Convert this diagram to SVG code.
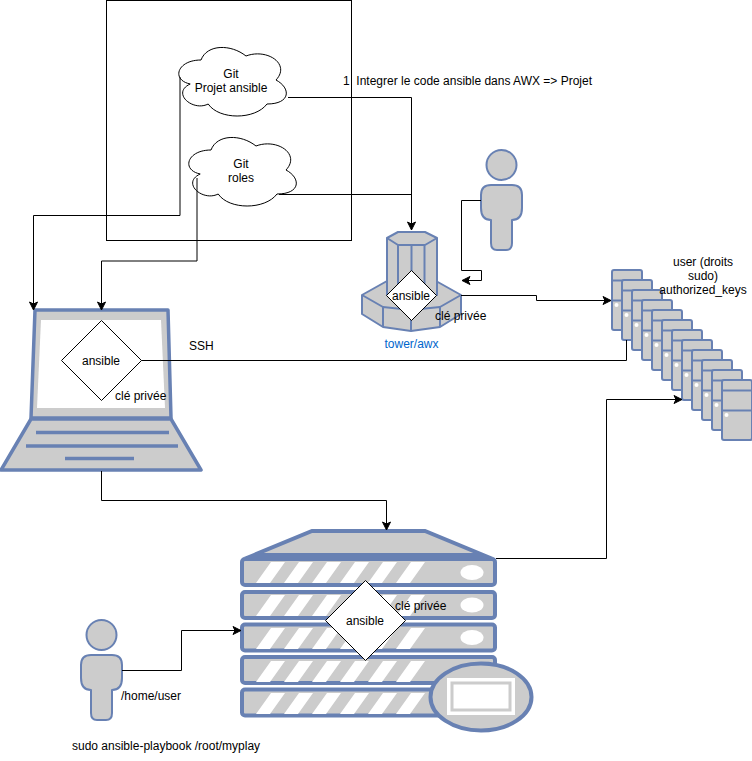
<svg xmlns="http://www.w3.org/2000/svg" width="752" height="761" viewBox="0 0 752 761">
<style>
text{font-family:"Liberation Sans",Arial,sans-serif;font-size:12px;fill:#000}
.c{text-anchor:middle}
.e{fill:none;stroke:#000;stroke-width:1}
.s{fill:#ccc;stroke:#6881b3;stroke-width:2;stroke-linejoin:round}
.t{fill:#ccc;stroke:#6881b3;stroke-width:4;stroke-linejoin:round}
.l{fill:#ccc;stroke:#6881b3;stroke-width:3.500;stroke-linejoin:round}
.d{fill:#fff;stroke:#000;stroke-width:1}
.w{fill:#fff;stroke:none}
</style>
<defs>
<marker id="a" markerUnits="userSpaceOnUse" markerWidth="10" markerHeight="10" refX="8" refY="4" orient="auto" overflow="visible"><path d="M0 0L8 4L0 8L2 4Z" fill="#000" stroke="#000" stroke-width="1"/></marker>
<path id="cl" d="M30 20C6 20 0 40 19.200 44C0 52.800 21.600 72 37.200 64C48 80 84 80 96 64C120 64 120 48 105 40C120 24 96 8 75 16C60 4 36 4 30 20Z"/>
<g id="srv"><rect class="s" x="0" y="0" width="30" height="60" rx="2"/><path class="s" d="M0 10.500H30M0 30.500H30" fill="none"/><circle class="w" cx="4.500" cy="35" r="2"/></g>
<g id="stripes"><path class="w" d="M256 21L271 0H285L270 21ZM284 21L299 0H313L298 21ZM312 21L327 0H341L326 21ZM340 21L355 0H369L354 21ZM368 21L383 0H397L382 21ZM396 21L411 0H425L410 21Z"/></g>
<g id="person"><circle class="s" cx="20.500" cy="15" r="15"/><path class="s" d="M10 35H31Q41 35 41 45V58Q41 70 31 70V93Q31 100 25 100H16Q10 100 10 93V70Q0 70 0 58V45Q0 35 10 35Z"/></g>
</defs>

<rect id="box" x="106.500" y="0.500" width="245" height="240" fill="none" stroke="#000"/>

<g id="cloud-projet"><use href="#cl" x="171" y="40" fill="#fff" stroke="#000"/><text class="c" x="231" y="78">Git</text><text class="c" x="231" y="92">Projet ansible</text></g>
<g id="cloud-roles"><use href="#cl" x="181" y="130" fill="#fff" stroke="#000"/><text class="c" x="241" y="168">Git</text><text class="c" x="241" y="182">roles</text></g>

<g id="tower">
<path class="s" d="M362 295L387 281H436L461 295L461 314L440 327L411 331L383 327L362 314Z"/>
<path class="s" fill="none" d="M362 295L383 307L411 310L440 307L461 295M383 307V327M411 310V331M440 307V327"/>
<path class="s" d="M387 238L398 232H425L437 238V295H387Z"/>
<path class="s" fill="none" d="M387 238L398 245H425L437 238M398 245V295M411.500 246V295M424.500 245V295"/>
<path class="d" d="M411.500 270.500L436.500 295.500L411.500 320.500L386.500 295.500Z"/>
<text class="c" x="411" y="300">ansible</text>
<text x="435" y="320">clé privée</text>
<text class="c" x="411.500" y="348" style="fill:#0066cc">tower/awx</text>
</g>

<g id="admin"><use href="#person" x="481" y="150"/></g>

<g id="servers">
<use href="#srv" x="612" y="270"/><use href="#srv" x="622" y="280"/><use href="#srv" x="632" y="290"/><use href="#srv" x="642" y="300"/><use href="#srv" x="652" y="310"/><use href="#srv" x="662" y="320"/><use href="#srv" x="672" y="330"/><use href="#srv" x="682" y="340"/><use href="#srv" x="692" y="350"/><use href="#srv" x="702" y="360"/><use href="#srv" x="712" y="370"/><use href="#srv" x="722" y="380"/>
<text class="c" x="703" y="266">user (droits</text>
<text class="c" x="703" y="280">sudo)</text>
<text class="c" x="703" y="294">authorized_keys</text>
</g>

<g id="laptop">
<path class="l" d="M35 310H168L171 418H31Z"/>
<path class="w" d="M41 320H161L165 408H37Z"/>
<path class="l" d="M31 419H171L201 470H1Z"/>
<path fill="none" stroke="#6881b3" stroke-width="3.500" d="M36 432.500H169M26 446H178M65 458.500H134"/>
<path class="d" d="M101.500 320.500L141.500 360.500L101.500 400.500L61.500 360.500Z"/>
<text class="c" x="101" y="365">ansible</text>
<text x="115" y="400">clé privée</text>
</g>

<g id="server">
<path class="t" style="stroke-linejoin:miter;stroke-miterlimit:20" d="M254 555L312 531H425L483 555Z"/>
<rect class="t" x="242" y="559" width="253" height="26" rx="3"/>
<rect class="t" x="242" y="592" width="253" height="26" rx="3"/>
<rect class="t" x="242" y="624.500" width="253" height="26" rx="3"/>
<rect class="t" x="242" y="657" width="253" height="26" rx="3"/>
<rect class="t" x="242" y="689.500" width="253" height="26" rx="3"/>
<use href="#stripes" y="562"/><use href="#stripes" y="595"/><use href="#stripes" y="628"/><use href="#stripes" y="661"/><use href="#stripes" y="693"/>
<ellipse class="w" cx="472" cy="572.500" rx="11.500" ry="7.500"/><ellipse class="w" cx="472" cy="605" rx="11.500" ry="7.500"/><ellipse class="w" cx="472" cy="637.500" rx="11.500" ry="7.500"/>
<ellipse class="t" cx="481" cy="697" rx="50.500" ry="33.500"/>
<rect class="w" x="447" y="678" width="68" height="37"/>
<rect x="452" y="683" width="58" height="27" fill="#fff" stroke="#ccc" stroke-width="3"/>
<path class="d" d="M365.500 580.500L405.500 620.500L365.500 660.500L325.500 620.500Z"/>
<text class="c" x="365" y="625">ansible</text>
<text x="395" y="610">clé privée</text>
</g>

<g id="user"><use href="#person" x="81" y="620"/>
<text x="121" y="700">/home/user</text>
<text x="72" y="750">sudo ansible-playbook /root/myplay</text>
</g>

<g id="connectors">
<path class="e" marker-end="url(#a)" d="M288 97.500H411.500V230"/>
<path class="e" d="M279 194.500H411.500"/>
<path class="e" marker-end="url(#a)" d="M180 77V215.500H33.500V310"/>
<path class="e" marker-end="url(#a)" d="M197 178V261H101.500V310"/>
<path class="e" marker-end="url(#a)" d="M481 200.500H461.500V270.500H481.500V280.500H462"/>
<path class="e" marker-end="url(#a)" d="M461 295.500H536.500V300.500H611"/>
<path class="e" d="M141.500 360.500H626.500V340"/>
<path class="e" marker-end="url(#a)" d="M101.500 471V500.500H386.500V530"/>
<path class="e" marker-end="url(#a)" d="M496 558.500H606.500V399.500H682"/>
<path class="e" marker-end="url(#a)" d="M122 670.500H181.500V630.500H241"/>
</g>

<g id="labels">
<text x="343" y="85" xml:space="preserve" style="white-space:pre">1  Integrer le code ansible dans AWX =&gt; Projet</text>
<text x="189" y="350">SSH</text>
</g>
</svg>
